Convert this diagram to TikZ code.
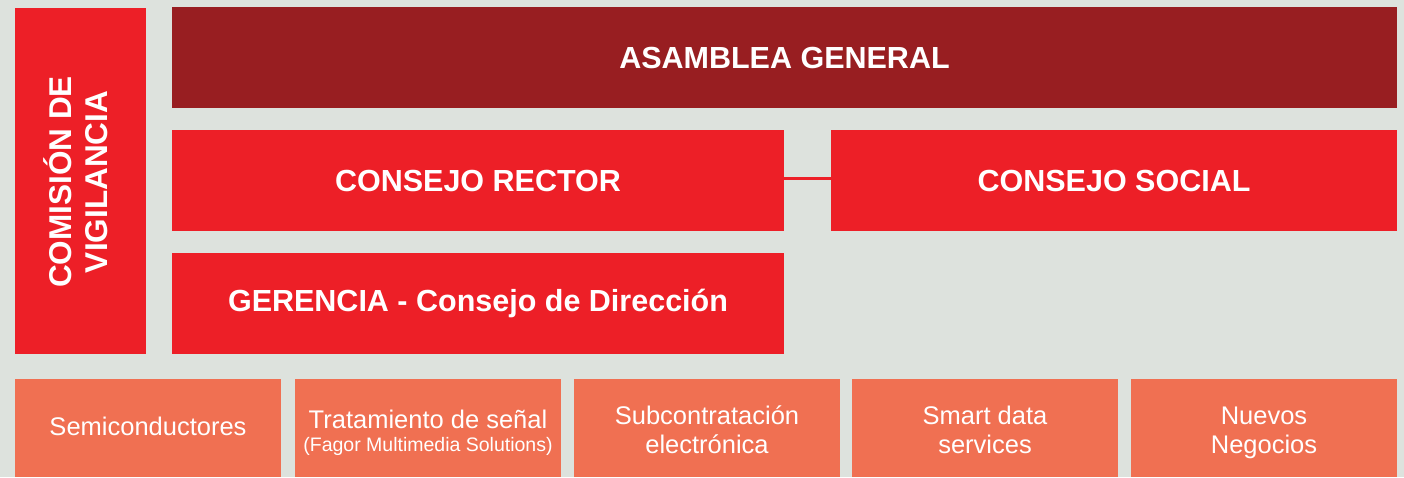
\documentclass[tikz,border=0pt]{standalone}
\usepackage{fontspec}
\setmainfont{Liberation Sans}
\definecolor{bgc}{HTML}{DDE2DD}
\definecolor{darkred}{HTML}{981E21}
\definecolor{brightred}{HTML}{ED1F27}
\definecolor{orangec}{HTML}{F07052}
\tikzset{
  box/.style={rectangle, anchor=north west, inner sep=0pt, outer sep=0pt, text=white, align=center},
  topbox/.style={box, fill=darkred, font=\fontsize{30.5}{34}\selectfont\bfseries},
  redbox/.style={box, fill=brightred, font=\fontsize{30.5}{34}\selectfont\bfseries},
  unitbox/.style={box, fill=orangec, minimum width=266pt, minimum height=98pt},
  unitlabel/.style={anchor=base, inner sep=0pt, text=white, font=\fontsize{25.5}{29}\selectfont},
  sublabel/.style={anchor=base, inner sep=0pt, text=white, font=\fontsize{19.5}{22}\selectfont},
  link/.style={draw=brightred, line width=3pt}
}
\begin{document}
\begin{tikzpicture}[x=1pt, y=-1pt]
\useasboundingbox (0,0) rectangle (1404,477);
\fill[bgc] (0,0) rectangle (1404,477);
% Comision de vigilancia
\node[redbox, minimum width=131pt, minimum height=346pt] (cv) at (15,8) {};
\node[text=white, font=\fontsize{31.5}{36}\selectfont\bfseries, rotate=90, align=center, inner sep=0pt] (cvt) at ([xshift=-5pt, yshift=-1pt]cv.center) {COMISIÓN DE\\VIGILANCIA};
% Asamblea
\node[topbox, minimum width=1225pt, minimum height=101pt] (ag) at (172,7) {ASAMBLEA GENERAL};
% Consejos
\node[redbox, minimum width=612pt, minimum height=101pt] (cr) at (172,130) {CONSEJO RECTOR};
\node[redbox, minimum width=566pt, minimum height=101pt] (cs) at (831,130) {CONSEJO SOCIAL};
\draw[link] ([yshift=2.5pt]cr.east) -- ([yshift=2.5pt]cs.west);
% Gerencia
\node[redbox, minimum width=612pt, minimum height=101pt] (ge) at (172,253) {GERENCIA - Consejo de Dirección};
% Units
\node[unitbox] (u1) at (15,379) {};
\node[unitbox] (u2) at (295,379) {};
\node[unitbox] (u3) at (574,379) {};
\node[unitbox] (u4) at (852,379) {};
\node[unitbox] (u5) at (1131,379) {};
\node[unitlabel] (u1a) at (148,435) {Semiconductores};
\node[unitlabel] (u2a) at (428,428) {Tratamiento de señal};
\node[sublabel]  (u2b) at (428,451) {(Fagor Multimedia Solutions)};
\node[unitlabel] (u3a) at (707,424) {Subcontratación};
\node[unitlabel] (u3b) at (707,453) {electrónica};
\node[unitlabel] (u4a) at (985,424) {Smart data};
\node[unitlabel] (u4b) at (985,453) {services};
\node[unitlabel] (u5a) at (1264,424) {Nuevos};
\node[unitlabel] (u5b) at (1264,453) {Negocios};
\end{tikzpicture}
\end{document}
